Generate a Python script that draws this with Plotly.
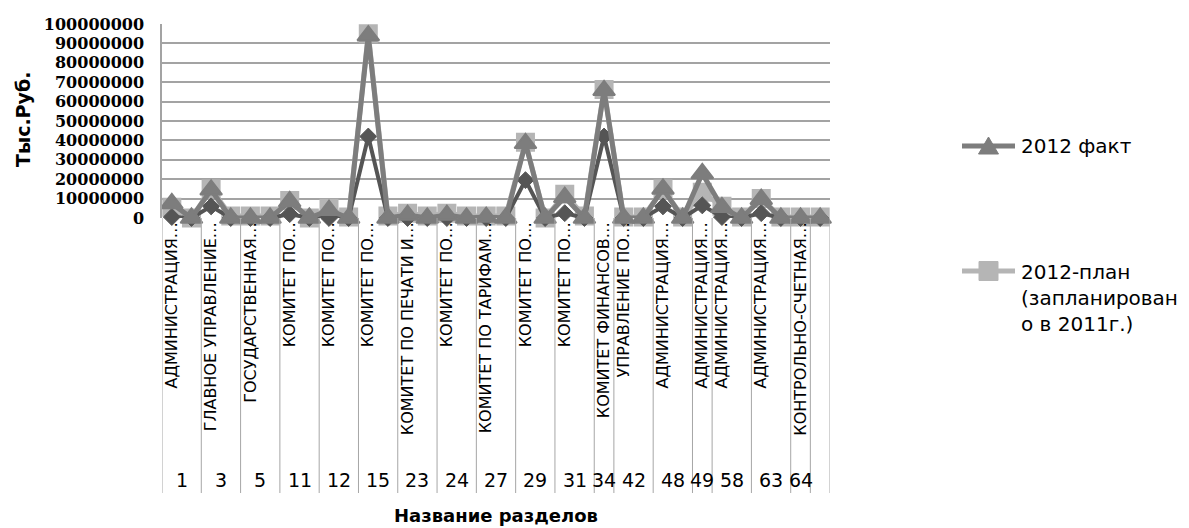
import plotly.graph_objects as go

# ---- data: one row per budget line, grouped by section code ----
row_codes = ["1", "1", "3", "3", "5", "5", "11", "11", "12", "12", "15", "15",
             "23", "23", "24", "24", "27", "27", "29", "29", "31", "31", "34",
             "42", "42", "48", "48", "49", "58", "58", "63", "63", "64", ""]

section_names = {
    "1": "АДМИНИСТРАЦИЯ…",
    "3": "ГЛАВНОЕ УПРАВЛЕНИЕ…",
    "5": "ГОСУДАРСТВЕННАЯ…",
    "11": "КОМИТЕТ ПО…",
    "12": "КОМИТЕТ ПО…",
    "15": "КОМИТЕТ ПО…",
    "23": "КОМИТЕТ ПО ПЕЧАТИ И…",
    "24": "КОМИТЕТ ПО…",
    "27": "КОМИТЕТ ПО ТАРИФАМ…",
    "29": "КОМИТЕТ ПО…",
    "31": "КОМИТЕТ ПО…",
    "34": "КОМИТЕТ ФИНАНСОВ…",
    "42": "УПРАВЛЕНИЕ ПО…",
    "48": "АДМИНИСТРАЦИЯ…",
    "49": "АДМИНИСТРАЦИЯ…",
    "58": "АДМИНИСТРАЦИЯ…",
    "63": "АДМИНИСТРАЦИЯ…",
    "64": "КОНТРОЛЬНО-СЧЕТНАЯ…",
    "": "",
}

fact_2012 = [7500000, 0, 14500000, 0, 0, 0, 8500000, 0, 4000000, 0, 94000000, 0,
             1500000, 0, 1500000, 0, 500000, 0, 38500000, 0, 10700000, 0, 65800000,
             0, 0, 15000000, 0, 23000000, 5500000, 0, 9700000, 0, 0, 0]

plan_2012 = [5500000, 0, 15000000, 1000000, 1000000, 1000000, 9000000, 0, 5000000,
             500000, 95000000, 1000000, 2500000, 1000000, 2500000, 1000000, 1000000,
             1000000, 39000000, 0, 12200000, 1000000, 66300000, 500000, 500000,
             15000000, 500000, 13300000, 6000000, 500000, 10000000, 500000, 500000,
             500000]

fact_2011 = [500000, 0, 6000000, 0, 0, 0, 2000000, 0, 0, 0, 42000000, 0, 0, 0, 0, 0,
             0, 0, 19500000, 0, 2500000, 0, 42000000, 0, 0, 6000000, 0, 6500000,
             500000, 0, 2500000, 0, 0, 0]

y_ticks = list(range(0, 100000001, 10000000))

series_labels = ["2012 факт", "2012-план<br>(запланирован<br>о в 2011г.)"]

# ---- styles ----
FACT_COLOR = "#7d7d7d"
PLAN_COLOR = "#b5b5b5"
PREV_COLOR = "#555555"
DIVIDER_COLOR = "#a6a6a6"
LABEL_FONT = "DejaVu Sans"

# ---- derived positions: rows on a numeric axis, sections as runs of rows ----
xs = list(range(len(row_codes)))
groups = []  # (code, first_row, last_row)
for i, c in enumerate(row_codes):
    if groups and groups[-1][0] == c and c != "":
        groups[-1] = (c, groups[-1][1], i)
    else:
        groups.append((c, i, i))

tick_rows = [g[1] for g in groups]
tick_names = [section_names[g[0]] for g in groups]

fig = go.Figure()

fig.add_trace(go.Scatter(
    x=xs, y=plan_2012, name=series_labels[1], mode="lines+markers",
    line=dict(color=PLAN_COLOR, width=5),
    marker=dict(symbol="square", size=17, color=PLAN_COLOR,
                line=dict(color=PLAN_COLOR, width=2)),
    cliponaxis=False, showlegend=False,
))
fig.add_trace(go.Scatter(
    x=xs, y=fact_2011, name="2011", mode="lines+markers", showlegend=False,
    line=dict(color=PREV_COLOR, width=4),
    marker=dict(symbol="diamond", size=13, color=PREV_COLOR,
                line=dict(color=PREV_COLOR, width=1)),
    cliponaxis=False,
))
fig.add_trace(go.Scatter(
    x=xs, y=fact_2012, name=series_labels[0], mode="lines+markers",
    line=dict(color=FACT_COLOR, width=5),
    marker=dict(symbol="triangle-up", size=19, color=FACT_COLOR,
                line=dict(color=FACT_COLOR, width=2)),
    cliponaxis=False, showlegend=False,
))

# plot area in pixels: left 162, right 830, top 24, bottom 218
def px(pix):
    return (pix - 162) / 668.0


def py(pix):
    return (218 - pix) / 194.0


# section dividers below the axis
bounds = [g[1] - 0.5 for g in groups] + [groups[-1][2] + 0.5]
for b in bounds:
    fig.add_shape(type="line", xref="x", yref="paper", x0=b, x1=b,
                  y0=0, y1=py(493), line=dict(color=DIVIDER_COLOR, width=1))

# section codes
for code, a, b in groups:
    if code:
        fig.add_annotation(x=(a + b) / 2, y=py(480), xref="x", yref="paper",
                           text=code, showarrow=False, yanchor="middle",
                           font=dict(family=LABEL_FONT, size=19, color="#000000"))

fig.add_annotation(x=0.5, y=py(515), xref="paper", yref="paper",
                   text="<b>Название разделов</b>", showarrow=False, yanchor="middle",
                   font=dict(family=LABEL_FONT, size=18, color="#000000"))
fig.add_annotation(x=px(23), y=py(120), xref="paper", yref="paper",
                   text="<b>Тыс.Руб.</b>", showarrow=False, textangle=-90,
                   xanchor="center", yanchor="middle",
                   font=dict(family=LABEL_FONT, size=19, color="#000000"))

# legend: line sample with marker, then label
def legend_entry(y_pix, color, symbol, label, n_lines):
    fig.add_shape(type="line", xref="paper", yref="paper",
                  x0=px(962), x1=px(1015), y0=py(y_pix), y1=py(y_pix),
                  line=dict(color=color, width=5))
    cx = 988.5
    if symbol == "triangle":
        path = "M {} {} L {} {} L {} {} Z".format(
            px(cx - 10), py(y_pix + 8), px(cx + 10), py(y_pix + 8),
            px(cx), py(y_pix - 9))
    else:
        path = "M {} {} L {} {} L {} {} L {} {} Z".format(
            px(cx - 9.5), py(y_pix - 9.5), px(cx + 9.5), py(y_pix - 9.5),
            px(cx + 9.5), py(y_pix + 9.5), px(cx - 9.5), py(y_pix + 9.5))
    fig.add_shape(type="path", xref="paper", yref="paper", path=path,
                  fillcolor=color, line=dict(color=color, width=1))
    fig.add_annotation(x=px(1019), y=py(y_pix + (n_lines - 1) * 13.5),
                       xref="paper", yref="paper", text=label, showarrow=False,
                       xanchor="left", yanchor="middle", align="left",
                       font=dict(family=LABEL_FONT, size=20, color="#000000"))


legend_entry(146, FACT_COLOR, "triangle", series_labels[0], 1)
legend_entry(271, PLAN_COLOR, "square", series_labels[1], 3)

fig.update_xaxes(
    range=[-0.5, len(xs) - 0.5], tickmode="array", tickvals=tick_rows,
    ticktext=tick_names, tickangle=-90, showgrid=False, zeroline=False,
    showline=False, ticks="",
    tickfont=dict(family=LABEL_FONT, size=16, color="#000000"),
)
fig.update_yaxes(
    range=[0, 100000000], tickmode="array", tickvals=y_ticks,
    ticktext=[str(v) for v in y_ticks], showgrid=True, gridcolor="#a3a3a3",
    gridwidth=1.5, zeroline=False, showline=True, linecolor="#a3a3a3",
    linewidth=1.5, ticks="", ticklabelstandoff=13,
    tickfont=dict(family="DejaVu Serif", size=16, color="#000000", weight="bold"),
)

fig.update_layout(
    width=1189, height=528,
    margin=dict(l=162, r=359, t=24, b=310, pad=0),
    plot_bgcolor="#ffffff", paper_bgcolor="#ffffff",
    showlegend=False,
)

fig.write_html("out.html")
